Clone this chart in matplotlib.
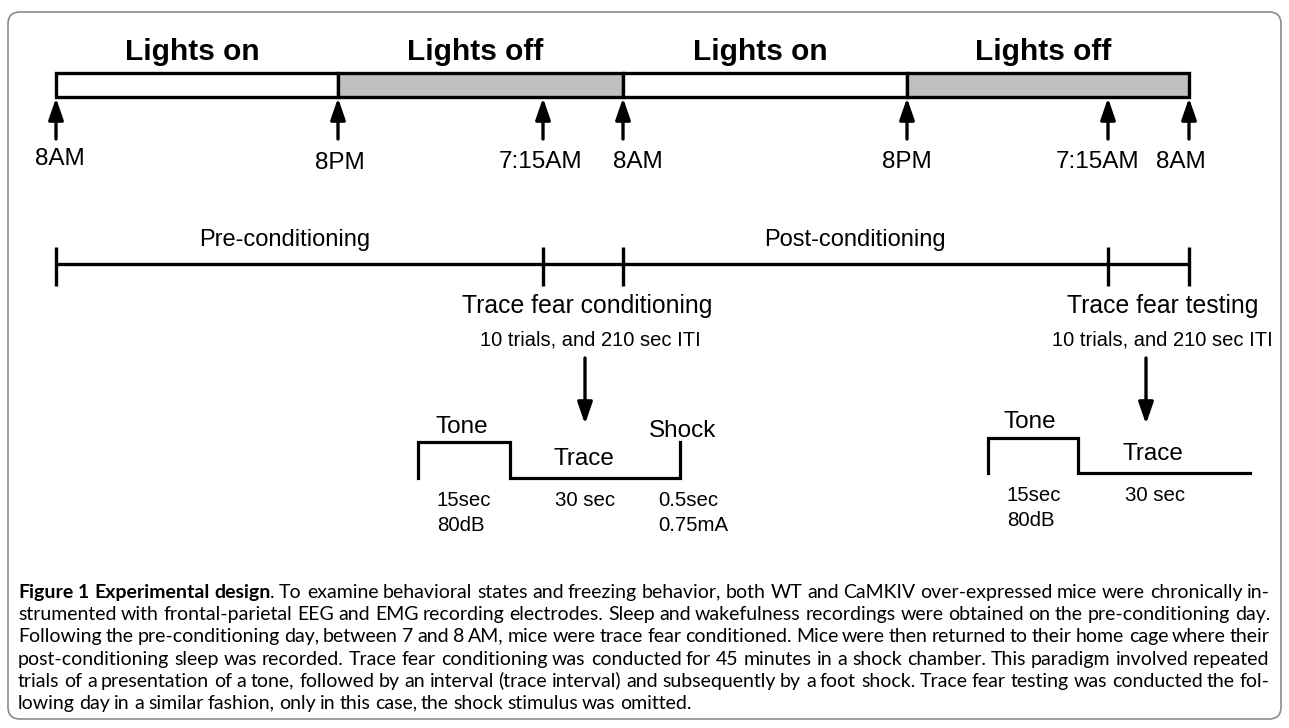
import math
import matplotlib.pyplot as plt
from matplotlib.patches import Rectangle, FancyBboxPatch
from matplotlib.font_manager import FontProperties, findfont, get_font
from matplotlib.backends.backend_agg import get_hinting_flag

# light/dark schedule (schematic x positions, in pixels of the panel)
period_labels = ["Lights on", "Lights off", "Lights on", "Lights off"]
period_edges = [56, 338, 623, 907, 1189]
period_colors = ["white", "#c0c0c0", "white", "#c0c0c0"]

# clock times marked by arrows under the bar
time_labels = ["8AM", "8PM", "7:15AM", "8AM", "8PM", "7:15AM", "8AM"]
time_x = [56, 338, 543, 623, 907, 1108, 1189]
time_label_x = [60, 340, 541, 638, 907, 1098, 1181]
time_label_y = [165, 169, 168, 168, 168, 168, 168]

# conditioning phases
phase_ticks = [56, 543, 623, 1108, 1189]
phase_labels = ["Pre-conditioning", "Post-conditioning"]
phase_label_x = [285, 855]

# training / testing sessions
session_titles = ["Trace fear conditioning", "Trace fear testing"]
session_x = [587, 1163]
session_note = "10 trials, and 210 sec ITI"
session_note_x = [590, 1162]
session_arrow_x = [585, 1146]

# stimulus schematics: (label, x, baseline y, size, ha)
trial_left = [("Tone", 462, 433, 17.5, "center"), ("Trace", 584, 465, 17.5, "center"),
              ("Shock", 683, 437, 17.5, "center"), ("15sec", 437, 506, 14.7, "left"),
              ("80dB", 437, 531, 14.7, "left"), ("30 sec", 585, 506, 14.7, "center"),
              ("0.5sec", 658, 506, 14.7, "left"), ("0.75mA", 658, 531, 14.7, "left")]
trial_right = [("Tone", 1030, 428, 17.5, "center"), ("Trace", 1153, 460, 17.5, "center"),
               ("15sec", 1007, 501, 14.7, "left"), ("80dB", 1007, 526, 14.7, "left"),
               ("30 sec", 1155, 501, 14.7, "center")]
trace_left_x = [418, 418, 510, 510, 680, 680]
trace_left_y = [478, 442, 442, 478, 478, 442]
trace_right_x = [988, 988, 1078, 1078, 1250]
trace_right_y = [473, 438, 438, 473, 473]

caption_bold = "Figure 1 Experimental design"
caption_lines = [
    ". To examine behavioral states and freezing behavior, both WT and CaMKIV over-expressed mice were chronically in-",
    "strumented with frontal-parietal EEG and EMG recording electrodes. Sleep and wakefulness recordings were obtained on the pre-conditioning day.",
    "Following the pre-conditioning day, between 7 and 8 AM, mice were trace fear conditioned. Mice were then returned to their home cage where their",
    "post-conditioning sleep was recorded. Trace fear conditioning was conducted for 45 minutes in a shock chamber. This paradigm involved repeated",
    "trials of a presentation of a tone, followed by an interval (trace interval) and subsequently by a foot shock. Trace fear testing was conducted the fol-",
    "lowing day in a similar fashion, only in this case, the shock stimulus was omitted.",
]

DIAG = "Liberation Sans"
CAP = "Lato"

fig = plt.figure(figsize=(12.89, 7.28), dpi=100)
ax = fig.add_axes([0, 0, 1, 1])
ax.set_xlim(0, 1289)
ax.set_ylim(728, 0)
ax.axis("off")

# frame
ax.add_patch(FancyBboxPatch((8, 12), 1273, 707, boxstyle="round,pad=0,rounding_size=12",
                            fc="none", ec="#8c8c8c", lw=1.2))

# light bar
for i, lab in enumerate(period_labels):
    x0, x1 = period_edges[i], period_edges[i + 1]
    ax.add_patch(Rectangle((x0, 73), x1 - x0, 24, fc=period_colors[i], ec="black", lw=2.4))
    ax.text((x0 + x1) / 2 - 5, 60, lab, family=DIAG, weight="bold", fontsize=21.5,
            ha="center", va="baseline")

arrow_kw = dict(arrowstyle="-|>,head_length=1.3,head_width=0.45", mutation_scale=10,
                lw=2.4, color="black", shrinkA=0, shrinkB=0)
for x, lab, lx, ly in zip(time_x, time_labels, time_label_x, time_label_y):
    ax.annotate("", xy=(x, 98), xytext=(x, 139), arrowprops=arrow_kw)
    ax.text(lx, ly, lab, family=DIAG, fontsize=17.5, ha="center", va="baseline")

# phase timeline
ax.plot([phase_ticks[0], phase_ticks[-1]], [264, 264], color="black", lw=2.4,
        solid_capstyle="butt")
for x in phase_ticks:
    ax.plot([x, x], [247, 286], color="black", lw=2.4, solid_capstyle="butt")
for lab, x in zip(phase_labels, phase_label_x):
    ax.text(x, 246, lab, family=DIAG, fontsize=17, ha="center", va="baseline")

for title, x, nx, axx in zip(session_titles, session_x, session_note_x, session_arrow_x):
    ax.text(x, 313, title, family=DIAG, fontsize=17.8, ha="center", va="baseline")
    ax.text(nx, 345, session_note, family=DIAG, fontsize=14.5, ha="center", va="baseline")
    ax.annotate("", xy=(axx, 424), xytext=(axx, 358), arrowprops=arrow_kw)

# stimulus traces
ax.plot(trace_left_x, trace_left_y, color="black", lw=2.3, solid_joinstyle="miter")
ax.plot(trace_right_x, trace_right_y, color="black", lw=2.3, solid_joinstyle="miter")
for lab, x, y, fs, ha in trial_left + trial_right:
    ax.text(x, y, lab, family=DIAG, fontsize=fs, ha=ha, va="baseline")

# caption, justified word by word
renderer = fig.canvas.get_renderer()


def width_of(s, fs, weight="normal"):
    t = ax.text(0, 0, s, family=CAP, fontsize=fs, weight=weight)
    w = t.get_window_extent(renderer).width
    t.remove()
    return w


def row_shift(s, fs, weight="normal"):
    # Agg rounds each text bitmap to whole pixels from its own descent, which
    # lets single words drift by a pixel; work out that drift so it can be undone
    font = get_font(findfont(FontProperties(family=CAP, weight=weight)))
    font.clear()
    font.set_size(fs, 100)
    font.set_text(s, 0, flags=get_hinting_flag())
    font.draw_glyphs_to_bitmap(antialiased=True)
    d = font.get_descent() / 64
    a = font.get_width_height()[1] / 64 - d
    return round(d) + math.floor(a) - math.floor(a + d)


left, right = 18, 1270
lines_tokens = []
for i, line in enumerate(caption_lines):
    toks = []
    if i == 0:
        for w in caption_bold.split():
            toks.append([w, "bold", False])
        toks.append([line[0], "normal", True])
        line = line[1:]
    for w in line.split():
        toks.append([w, "normal", False])
    lines_tokens.append(toks)


def natural_width(toks, fs, space):
    w = sum(width_of(t[0], fs, t[1]) for t in toks)
    return w + space * sum(1 for t in toks[1:] if not t[2])


# pick a size so the widest full line fits with slightly tight spacing
base_fs = 13.0
base_space = width_of("a b", base_fs) - width_of("ab", base_fs)
widest = max(natural_width(t, base_fs, base_space * 0.85) for t in lines_tokens[:-1])
cap_fs = base_fs * (right - left) / widest
space = (width_of("a b", cap_fs) - width_of("ab", cap_fs)) * 0.85

placed = []
for i, toks in enumerate(lines_tokens):
    widths = [width_of(t[0], cap_fs, t[1]) for t in toks]
    ngaps = sum(1 for t in toks[1:] if not t[2])
    last = i == len(lines_tokens) - 1
    gap = space if last else (right - left - sum(widths)) / ngaps
    x = left
    y = round(598 + i * 22.2)
    for j, (t, w) in enumerate(zip(toks, widths)):
        if j > 0 and not t[2]:
            x += gap
        placed.append((round(x), y, t[0], t[1]))
        x += w

shifts = [row_shift(s, cap_fs, wt) for _, _, s, wt in placed]
ref = max(set(shifts), key=shifts.count)
for (x, y, s, wt), sh in zip(placed, shifts):
    ax.text(x, y - (sh - ref), s, family=CAP, fontsize=cap_fs, weight=wt, ha="left",
            va="baseline", color="black")

fig.savefig("out.png", dpi=100)
